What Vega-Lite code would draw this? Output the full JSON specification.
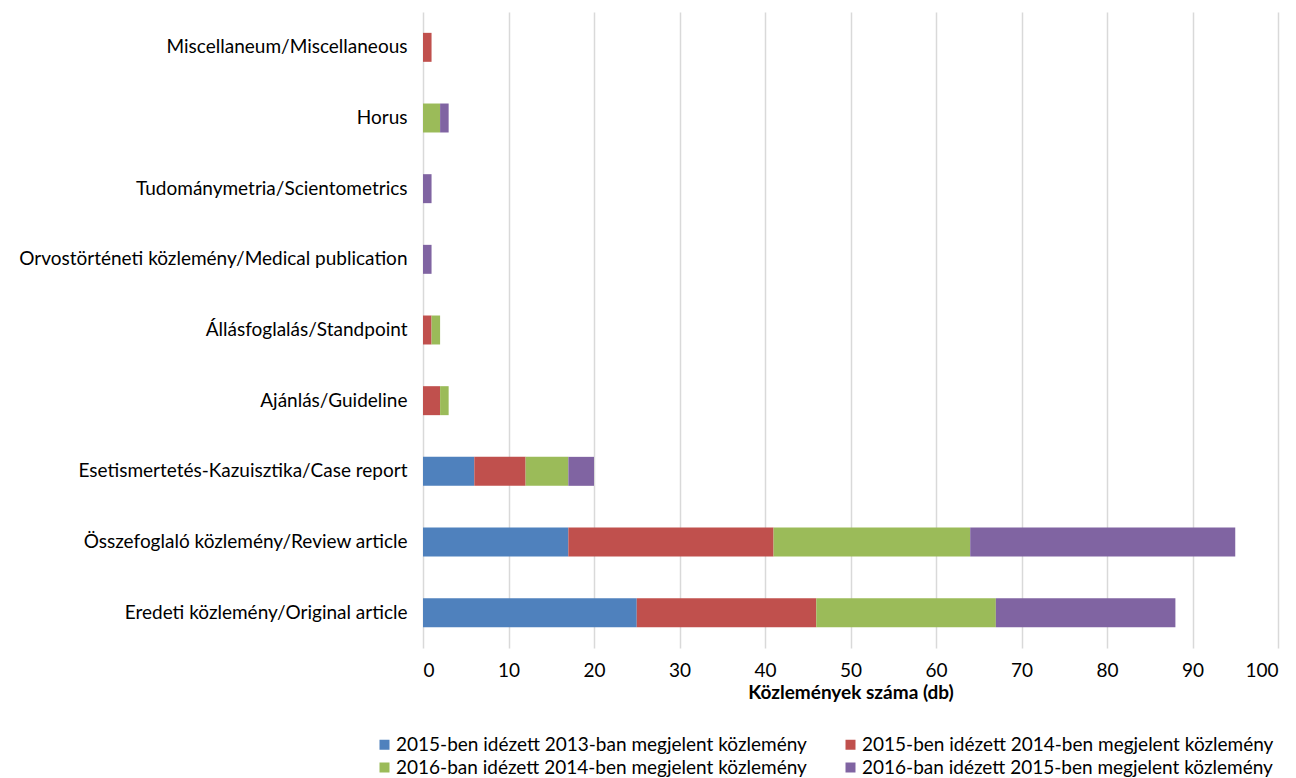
{
  "$schema": "https://vega.github.io/schema/vega-lite/v6.json",
  "width": 855,
  "height": 636,
  "autosize": "none",
  "padding": {"left": 423, "top": 12, "right": 18, "bottom": 130},
  "background": "white",
  "config": {
    "font": "Lato",
    "view": {"stroke": null},
    "axis": {"labelFont": "Lato", "titleFont": "Lato", "labelColor": "#000", "titleColor": "#000"}
  },
  "data": {
    "values": [
      {"cat": "Miscellaneum/Miscellaneous", "s": "2015-ben idézett 2014-ben megjelent közlemény", "k": 2, "v": 1},
      {"cat": "Horus", "s": "2016-ban idézett 2014-ben megjelent közlemény", "k": 3, "v": 2},
      {"cat": "Horus", "s": "2016-ban idézett 2015-ben megjelent közlemény", "k": 4, "v": 1},
      {"cat": "Tudománymetria/Scientometrics", "s": "2016-ban idézett 2015-ben megjelent közlemény", "k": 4, "v": 1},
      {"cat": "Orvostörténeti közlemény/Medical publication", "s": "2016-ban idézett 2015-ben megjelent közlemény", "k": 4, "v": 1},
      {"cat": "Állásfoglalás/Standpoint", "s": "2015-ben idézett 2014-ben megjelent közlemény", "k": 2, "v": 1},
      {"cat": "Állásfoglalás/Standpoint", "s": "2016-ban idézett 2014-ben megjelent közlemény", "k": 3, "v": 1},
      {"cat": "Ajánlás/Guideline", "s": "2015-ben idézett 2014-ben megjelent közlemény", "k": 2, "v": 2},
      {"cat": "Ajánlás/Guideline", "s": "2016-ban idézett 2014-ben megjelent közlemény", "k": 3, "v": 1},
      {"cat": "Esetismertetés-Kazuisztika/Case report", "s": "2015-ben idézett 2013-ban megjelent közlemény", "k": 1, "v": 6},
      {"cat": "Esetismertetés-Kazuisztika/Case report", "s": "2015-ben idézett 2014-ben megjelent közlemény", "k": 2, "v": 6},
      {"cat": "Esetismertetés-Kazuisztika/Case report", "s": "2016-ban idézett 2014-ben megjelent közlemény", "k": 3, "v": 5},
      {"cat": "Esetismertetés-Kazuisztika/Case report", "s": "2016-ban idézett 2015-ben megjelent közlemény", "k": 4, "v": 3},
      {"cat": "Összefoglaló közlemény/Review article", "s": "2015-ben idézett 2013-ban megjelent közlemény", "k": 1, "v": 17},
      {"cat": "Összefoglaló közlemény/Review article", "s": "2015-ben idézett 2014-ben megjelent közlemény", "k": 2, "v": 24},
      {"cat": "Összefoglaló közlemény/Review article", "s": "2016-ban idézett 2014-ben megjelent közlemény", "k": 3, "v": 23},
      {"cat": "Összefoglaló közlemény/Review article", "s": "2016-ban idézett 2015-ben megjelent közlemény", "k": 4, "v": 31},
      {"cat": "Eredeti közlemény/Original article", "s": "2015-ben idézett 2013-ban megjelent közlemény", "k": 1, "v": 25},
      {"cat": "Eredeti közlemény/Original article", "s": "2015-ben idézett 2014-ben megjelent közlemény", "k": 2, "v": 21},
      {"cat": "Eredeti közlemény/Original article", "s": "2016-ban idézett 2014-ben megjelent közlemény", "k": 3, "v": 21},
      {"cat": "Eredeti közlemény/Original article", "s": "2016-ban idézett 2015-ben megjelent közlemény", "k": 4, "v": 21}
    ]
  },
  "mark": {"type": "bar"},
  "encoding": {
    "y": {
      "field": "cat", "type": "nominal",
      "sort": ["Miscellaneum/Miscellaneous", "Horus", "Tudománymetria/Scientometrics", "Orvostörténeti közlemény/Medical publication", "Állásfoglalás/Standpoint", "Ajánlás/Guideline", "Esetismertetés-Kazuisztika/Case report", "Összefoglaló közlemény/Review article", "Eredeti közlemény/Original article"],
      "scale": {"paddingInner": 0.59, "paddingOuter": 0.295},
      "axis": {"title": null, "domain": false, "ticks": false, "labelPadding": 16, "labelFontSize": 19, "labelLimit": 500}
    },
    "x": {
      "field": "v", "type": "quantitative", "aggregate": "sum", "stack": "zero",
      "scale": {"domain": [0, 100], "nice": false},
      "axis": {
        "title": "Közlemények száma (db)", "titleFontSize": 19, "titleFontWeight": "bold", "titlePadding": 3,
        "values": [0,10,20,30,40,50,60,70,80,90,100], "labelFontSize": 19, "labelPadding": 13,
        "domain": false, "ticks": false, "grid": true, "gridColor": "#d9d9d9", "gridWidth": 1.5
      }
    },
    "color": {
      "field": "s", "type": "nominal",
      "scale": {
        "domain": ["2015-ben idézett 2013-ban megjelent közlemény", "2015-ben idézett 2014-ben megjelent közlemény", "2016-ban idézett 2014-ben megjelent közlemény", "2016-ban idézett 2015-ben megjelent közlemény"],
        "range": ["#4F81BD", "#C0504D", "#9BBB59", "#8064A2"]
      },
      "legend": {
        "title": null, "orient": "none", "legendX": -48, "legendY": 723, "direction": "horizontal", "columns": 2,
        "symbolType": "square", "symbolSize": 100, "symbolStrokeWidth": 0, "symbolOffset": 0,
        "labelFontSize": 19, "labelOffset": 2, "labelLimit": 600, "columnPadding": 34, "rowPadding": 3, "labelColor": "#000"
      }
    },
    "order": {"field": "k", "type": "quantitative"}
  }
}
